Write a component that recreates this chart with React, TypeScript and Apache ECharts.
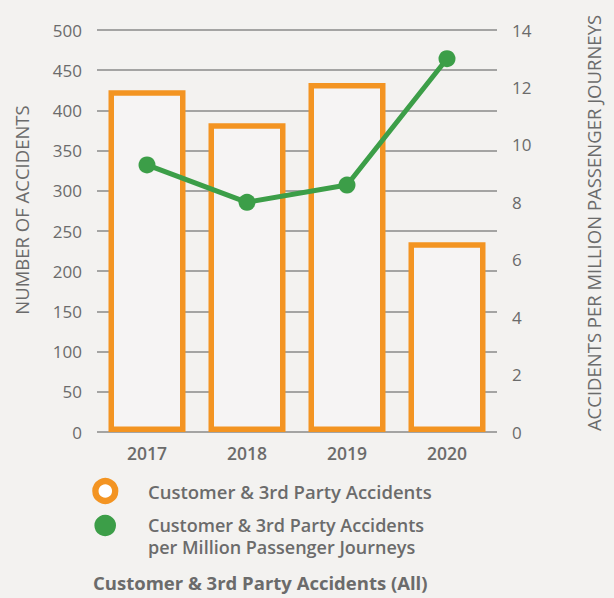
import React, { useEffect, useRef } from "react";
import * as echarts from "echarts";

const categories = ["2017", "2018", "2019", "2020"];
const accidents = [425, 384, 434, 236];
const perMillion = [9.3, 8.0, 8.6, 13.0];
const leftTicks = { min: 0, max: 500, interval: 50 };
const rightTicks = { min: 0, max: 14, interval: 2 };
const barName = "Customer & 3rd Party Accidents";
const lineName = "Customer & 3rd Party Accidents\nper Million Passenger Journeys";
const leftAxisName = "NUMBER OF ACCIDENTS";
const rightAxisName = "ACCIDENTS PER MILLION PASSENGER JOURNEYS";
const chartTitle = "Customer & 3rd Party Accidents (All)";

const BG = "#f3f2f0";
const ORANGE = "#f39422";
const GREEN = "#3c9e48";
const TEXT = "#6b6b6b";
const FONT = "'Open Sans', sans-serif";

export default function App() {
  const ref = useRef<HTMLDivElement>(null);
  useEffect(() => {
    document.body.style.margin = "0";
    document.body.style.background = BG;
    const chart = echarts.init(ref.current!, undefined, { renderer: "svg" });
    chart.setOption({
      animation: false,
      backgroundColor: BG,
      textStyle: { fontFamily: FONT },
      grid: { left: 97, right: 117, top: 30, bottom: 166 },
      xAxis: {
        type: "category",
        data: categories,
        axisLine: { show: false },
        axisTick: { show: false },
        axisLabel: { color: TEXT, fontSize: 17.5, fontWeight: 600, margin: 12, fontFamily: FONT },
      },
      yAxis: [
        {
          type: "value",
          ...leftTicks,
          axisLine: { show: false },
          axisTick: { show: false },
          axisLabel: { color: TEXT, fontSize: 17, margin: 15, fontFamily: FONT },
          splitLine: { lineStyle: { color: "#8a8a8a", width: 1.5 } },
        },
        {
          type: "value",
          ...rightTicks,
          axisLine: { show: false },
          axisTick: { show: false },
          axisLabel: { color: TEXT, fontSize: 17, margin: 15, fontFamily: FONT },
          splitLine: { show: false },
        },
      ],
      series: [
        {
          name: barName,
          type: "bar",
          data: accidents,
          barWidth: 77,
          itemStyle: { color: "#f6f4f4", borderColor: ORANGE, borderWidth: 5.5 },
          z: 2,
        },
        {
          name: lineName,
          type: "line",
          yAxisIndex: 1,
          data: perMillion,
          symbol: "circle",
          symbolSize: 17,
          lineStyle: { color: GREEN, width: 5 },
          itemStyle: { color: GREEN },
          z: 3,
        },
      ],
      graphic: [
        {
          type: "text",
          x: 21,
          y: 210,
          rotation: Math.PI / 2,
          style: { text: leftAxisName, fill: TEXT, font: `18.5px ${FONT}`, align: "center", verticalAlign: "middle" },
        },
        {
          type: "text",
          x: 593,
          y: 223,
          rotation: Math.PI / 2,
          style: { text: rightAxisName, fill: TEXT, font: `18.5px ${FONT}`, align: "center", verticalAlign: "middle" },
        },
        {
          type: "circle",
          shape: { cx: 105.3, cy: 491, r: 9.9 },
          style: { fill: "#ffffff", stroke: ORANGE, lineWidth: 6.3 },
        },
        {
          type: "text",
          x: 148,
          y: 491,
          style: { text: barName, fill: TEXT, font: `600 18.5px ${FONT}`, verticalAlign: "middle" },
        },
        {
          type: "circle",
          shape: { cx: 105.2, cy: 525.5, r: 10.8 },
          style: { fill: GREEN },
        },
        {
          type: "text",
          x: 148,
          y: 513.5,
          style: { text: lineName, fill: TEXT, font: `600 18px ${FONT}`, verticalAlign: "top", lineHeight: 22 },
        },
        {
          type: "text",
          x: 93,
          y: 582,
          style: { text: chartTitle, fill: TEXT, font: `700 18.5px ${FONT}`, verticalAlign: "middle" },
        },
      ],
    });
    return () => chart.dispose();
  }, []);
  return <div ref={ref} style={{ position: "absolute", left: 0, top: 0, width: 614, height: 598 }} />;
}
